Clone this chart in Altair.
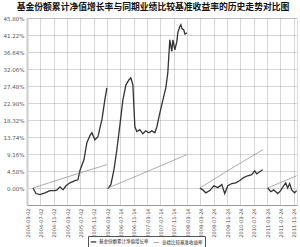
import altair as alt
import pandas as pd

title_text = "基金份额累计净值增长率与同期业绩比较基准收益率的历史走势对比图"
series_names = ["基金份额累计净值增长率", "业绩比较基准收益率"]

x_labels = ["2004-03-02", "2004-07-02", "2004-11-02", "2005-03-02", "2005-07-02",
            "2005-11-02", "2006-03-02", "2006-07-14", "2006-11-14", "2007-03-14",
            "2007-07-14", "2007-11-14", "2008-03-14", "2009-03-24", "2009-07-24",
            "2009-11-24", "2010-03-24", "2010-07-24", "2011-03-24", "2011-07-24",
            "2011-11-24"]
y_ticks = [0.00, 4.58, 9.16, 13.74, 18.32, 22.90, 27.48, 32.06, 36.64, 41.22, 45.80]

# fund segments (x in label-index units, y in %)
f1_x = [0.45, 0.67, 0.97, 1.35, 1.72, 2.10, 2.25, 2.47, 2.70, 2.92, 3.22, 3.60, 3.82,
        3.97, 4.27, 4.49, 4.72, 4.87, 5.09, 5.32, 5.47, 5.62, 5.84, 5.99]
f1_y = [0.0, -1.5, -1.8, -1.3, -0.7, -0.7, -0.5, 0.3, -0.5, 0.6, 1.4, 2.0, 2.2,
        4.7, 7.6, 12.2, 14.1, 14.9, 13.0, 13.8, 16.2, 18.4, 23.8, 27.0]
f2_x = [6.07, 6.29, 6.52, 6.74, 6.97, 7.19, 7.42, 7.64, 7.79, 7.94, 8.09, 8.24, 8.46,
        8.69, 8.91, 9.14, 9.36, 9.59, 9.74, 9.96, 10.19, 10.41, 10.56, 10.71, 10.86,
        10.94, 11.09, 11.24, 11.31, 11.46, 11.54, 11.61, 11.76, 11.84, 11.99]
f2_y = [-0.2, 0.9, 4.9, 10.3, 17.0, 23.7, 27.8, 29.1, 29.7, 27.8, 16.5, 15.2, 15.7,
        14.6, 15.4, 14.9, 15.4, 14.9, 16.5, 20.2, 23.7, 27.0, 31.0, 39.9, 36.8,
        39.9, 37.2, 39.5, 41.8, 43.5, 44.0, 43.0, 42.6, 41.5, 41.8]
f3_x = [12.96, 13.18, 13.41, 13.71, 14.01, 14.31, 14.61, 14.83, 15.06, 15.36, 15.66,
        15.96, 16.25, 16.55, 16.85, 17.08, 17.23, 17.45, 17.68]
f3_y = [0.0, -0.5, -1.3, -0.7, 0.6, 0.1, 0.9, -1.5, 0.6, 1.2, 1.4, 2.0, 2.8, 3.3,
        3.6, 4.6, 3.8, 4.4, 4.9]
f4_x = [18.05, 18.28, 18.50, 18.80, 19.03, 19.25, 19.40, 19.55, 19.70, 19.85, 20.07, 20.22]
f4_y = [0.0, -1.0, -0.5, -1.5, -0.7, 0.6, 1.4, 0.0, 1.2, -0.5, -1.3, -0.7]

# benchmark segments
b1_x = [0.45, 3.22, 5.99]
b1_y = [0.0, 3.2, 6.3]
b2_x = [6.07, 9.00, 11.99]
b2_y = [0.0, 4.4, 9.0]
b3_x = [12.96, 15.30, 17.68]
b3_y = [0.0, 5.2, 10.3]
b4_x = [18.05, 20.22]
b4_y = [0.0, 3.3]

rows = []
for seg, (xs, ys) in enumerate([(f1_x, f1_y), (f2_x, f2_y), (f3_x, f3_y), (f4_x, f4_y)]):
    for i, (a, b) in enumerate(zip(xs, ys)):
        rows.append({"x": a, "y": b, "series": series_names[0], "seg": f"f{seg}", "o": i})
for seg, (xs, ys) in enumerate([(b1_x, b1_y), (b2_x, b2_y), (b3_x, b3_y), (b4_x, b4_y)]):
    for i, (a, b) in enumerate(zip(xs, ys)):
        rows.append({"x": a, "y": b, "series": series_names[1], "seg": f"b{seg}", "o": i})
df = pd.DataFrame(rows)

label_expr = "[" + ",".join(f"'{s}'" for s in x_labels) + "][round(datum.value)]"

chart = alt.Chart(df).mark_line().encode(
    x=alt.X("x:Q", scale=alt.Scale(domain=[0, 20.25], nice=False, zero=False),
            axis=alt.Axis(values=list(range(len(x_labels))), labelExpr=label_expr,
                          labelAngle=270, labelFontSize=5, labelColor="#444",
                          labelPadding=3, ticks=False, title=None,
                          grid=True, gridDash=[1, 1], gridColor="#777", gridWidth=0.6,
                          domainColor="#999", domainWidth=1, labelFont="DejaVu Sans")),
    y=alt.Y("y:Q", scale=alt.Scale(domain=[-4.58, 45.80], nice=False, zero=False),
            axis=alt.Axis(values=y_ticks, labelExpr="format(datum.value, '.2f') + '%'",
                          labelFontSize=5.5, labelColor="#555", ticks=False, title=None,
                          labelPadding=3, grid=True, gridDash=[1, 1], gridColor="#777",
                          gridWidth=0.6, domainColor="#ccc", domainWidth=2,
                          labelFont="DejaVu Sans")),
    color=alt.Color("series:N", scale=alt.Scale(domain=series_names, range=["#333333", "#888888"]),
                    legend=alt.Legend(orient="none", legendX=61, legendY=218,
                                      direction="horizontal", title=None,
                                      symbolType="stroke", symbolSize=30,
                                      symbolStrokeWidth=1.0, labelFontSize=4.5,
                                      labelFont="Noto Sans CJK SC", labelColor="#222",
                                      strokeColor="#555", padding=2, columnPadding=3,
                                      labelOffset=2, labelLimit=200)),
    strokeWidth=alt.StrokeWidth("series:N", scale=alt.Scale(domain=series_names, range=[1.3, 0.7]),
                                legend=None),
    detail="seg:N",
    order="o:Q",
).properties(
    width=270, height=187,
    title=alt.Title(title_text, fontSize=8.8, font="Noto Sans CJK SC", fontWeight="bold",
                    color="#111", anchor="middle", dx=-9, offset=4),
    autosize=alt.AutoSizeParams(type="none"),
    padding={"left": 27, "top": 18, "right": 3, "bottom": 42},
).configure_view(strokeWidth=0).configure(background="white")

chart.save("out.html", embed_options={"renderer": "svg", "actions": False})
